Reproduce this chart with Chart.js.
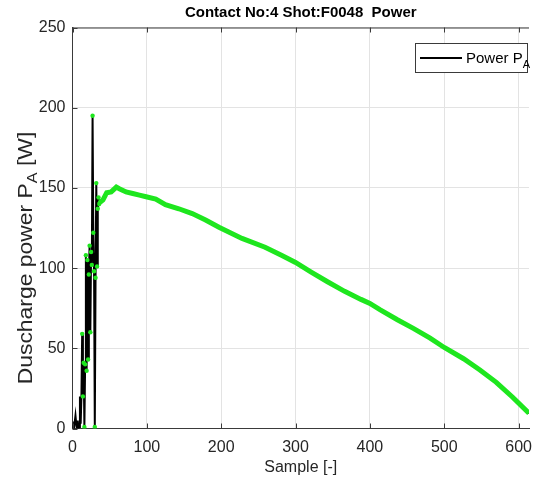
<!DOCTYPE html>
<html>
<head>
<meta charset="utf-8">
<script src="https://cdn.jsdelivr.net/npm/chart.js@4"></script>
<style>
html,body{margin:0;padding:0;background:#fff;}
#wrap{width:533px;height:481px;position:relative;}
</style>
</head>
<body>
<div id="wrap"><canvas id="c" width="533" height="481"></canvas></div>
<script>
// ---- data ----
const chartTitle = 'Contact No:4 Shot:F0048  Power';
const xAxisLabel = 'Sample [-]';
const yAxisLabelMain = 'Duscharge power P';
const yAxisLabelSub = 'A';
const yAxisLabelUnit = ' [W]';
const legendMain = 'Power P';
const legendSub = 'A';

const xTicks = [0, 100, 200, 300, 400, 500, 600];
const yTicks = [0, 50, 100, 150, 200, 250];

// start-up (spiky) part, one value per sample
const startSamples = [0,1,2,3,4,5,6,7,8,9,10,11,12,13,14,15,16,17,18,19,20,21,22,23,24,25,26,27,28,29,30,31,32,33,34,35,36,37];
const startPower   = [0,2,0,4,8,3,0,5,0,1,20,3,20,59,20,41,1,40,108,36,105,43,96,114,60,110,102,195,122,98,1,94,153,101,137,144,140,141];

// main discharge curve
const mainSamples = [37,41,46,52,59,63,72,81,90,99,112,125,143,161,179,197,228,259,281,300,321,343,366,388,400,414,437,459,481,500,526,548,570,592,614];
const mainPower   = [141,142.5,147,147.5,150.5,149.5,147.5,146.5,145.5,144.5,143,139.5,137,134,130,125.5,118.5,113,108,103.5,97.5,91.5,85.5,80.5,78,74,67.8,62.3,56.3,50.5,43.5,36.5,28.8,19.5,9.5];

const xMin = 0, xMax = 614, yMin = 0, yMax = 250;

// ---- build ----
const toPts = (xs, ys) => xs.map((x, i) => ({x: x, y: ys[i]}));
const blackPts = toPts(startSamples, startPower).concat(toPts(mainSamples.slice(1), mainPower.slice(1)));
const greenDots = toPts(startSamples.slice(13), startPower.slice(13));
const greenBand = toPts(mainSamples, mainPower);

const GREEN = '#1ee61e';
const AXIS = '#3a3a3a';
const FONT = "'Liberation Sans', Arial, sans-serif";

const frame = {
  id: 'frame',
  afterDraw(chart) {
    const {ctx, chartArea: a, scales} = chart;
    ctx.save();
    ctx.strokeStyle = AXIS;
    ctx.lineWidth = 1;
    ctx.beginPath();
    ctx.moveTo(a.left, a.top + 0.5); ctx.lineTo(a.right, a.top + 0.5);
    ctx.stroke();
    // inward tick marks
    ctx.beginPath();
    xTicks.forEach(v => {
      const px = Math.round(scales.x.getPixelForValue(v)) + 0.5;
      ctx.moveTo(px, a.bottom); ctx.lineTo(px, a.bottom - 5);
      ctx.moveTo(px, a.top); ctx.lineTo(px, a.top + 5);
    });
    yTicks.forEach(v => {
      const py = Math.round(scales.y.getPixelForValue(v)) + 0.5;
      ctx.moveTo(a.left, py); ctx.lineTo(a.left + 5, py);
    });
    ctx.stroke();

    // y-axis title with subscript
    ctx.fillStyle = '#262626';
    ctx.textBaseline = 'alphabetic';
    const big = '21px ' + FONT, small = '15px ' + FONT;
    ctx.font = big; const w1 = ctx.measureText(yAxisLabelMain).width;
    const w3 = ctx.measureText(yAxisLabelUnit).width;
    ctx.font = small; const w2 = ctx.measureText(yAxisLabelSub).width;
    const total = w1 + w2 + w3;
    ctx.translate(32, 258);
    ctx.rotate(-Math.PI / 2);
    ctx.scale(1.09, 1);
    let x0 = -total / 2;
    ctx.font = big; ctx.textAlign = 'left';
    ctx.fillText(yAxisLabelMain, x0, 0);
    ctx.font = small; ctx.fillText(yAxisLabelSub, x0 + w1, 5);
    ctx.font = big; ctx.fillText(yAxisLabelUnit, x0 + w1 + w2, 0);
    ctx.restore();

    // legend
    ctx.save();
    ctx.fillStyle = '#fff';
    ctx.fillRect(415.5, 43.5, 112, 29);
    ctx.strokeStyle = AXIS; ctx.lineWidth = 1;
    ctx.strokeRect(415.5, 43.5, 112, 29);
    ctx.strokeStyle = '#000'; ctx.lineWidth = 2;
    ctx.beginPath(); ctx.moveTo(420, 58); ctx.lineTo(462, 58); ctx.stroke();
    ctx.fillStyle = '#000'; ctx.textBaseline = 'alphabetic'; ctx.textAlign = 'left';
    ctx.font = '15px ' + FONT;
    ctx.fillText(legendMain, 466, 63);
    const lw = ctx.measureText(legendMain).width;
    ctx.font = '11px ' + FONT;
    ctx.fillText(legendSub, 466 + lw, 68);
    ctx.restore();
  }
};

new Chart(document.getElementById('c'), {
  type: 'scatter',
  data: {
    datasets: [
      { label: 'Power P_A', data: blackPts, showLine: true, borderColor: '#000', borderWidth: 2,
        pointRadius: 0, order: 3 },
      { label: 'band', data: greenBand, showLine: true, borderColor: GREEN, borderWidth: 5,
        pointRadius: 0, order: 2 },
      { label: 'dots', data: greenDots, showLine: false, pointRadius: 2.2, pointBorderWidth: 0,
        pointBackgroundColor: GREEN, order: 1 }
    ]
  },
  options: {
    responsive: false,
    animation: false,
    layout: { padding: { left: 0, right: 0, top: 0, bottom: 0 } },
    plugins: {
      legend: { display: false },
      tooltip: { enabled: false },
      title: {
        display: true, text: chartTitle, fullSize: false, color: '#000',
        font: { family: FONT, size: 15, weight: 'bold', lineHeight: 1.2 },
        padding: { top: 4, bottom: 5.5 }
      }
    },
    scales: {
      x: {
        type: 'linear', min: xMin, max: xMax,
        afterBuildTicks: s => { s.ticks = xTicks.map(v => ({value: v})); },
        afterFit: s => { s.height = 52.5; s.paddingLeft = 0; s.paddingRight = 0; },
        grid: { color: '#e3e3e3', drawTicks: false },
        border: { color: AXIS, width: 1 },
        ticks: { color: '#262626', font: { family: FONT, size: 16 }, padding: 9, maxRotation: 0 },
        title: { display: true, text: xAxisLabel, color: '#262626', font: { family: FONT, size: 16 }, padding: { top: 0, bottom: 4 } }
      },
      y: {
        type: 'linear', min: yMin, max: yMax,
        afterBuildTicks: s => { s.ticks = yTicks.map(v => ({value: v})); },
        afterFit: s => { s.width = 72.5; s.paddingTop = 0; s.paddingBottom = 0; },
        grid: { color: '#e3e3e3', drawTicks: false },
        border: { color: AXIS, width: 1 },
        ticks: { color: '#262626', font: { family: FONT, size: 16 }, padding: 7 }
      }
    }
  },
  plugins: [frame]
});
</script>
</body>
</html>
